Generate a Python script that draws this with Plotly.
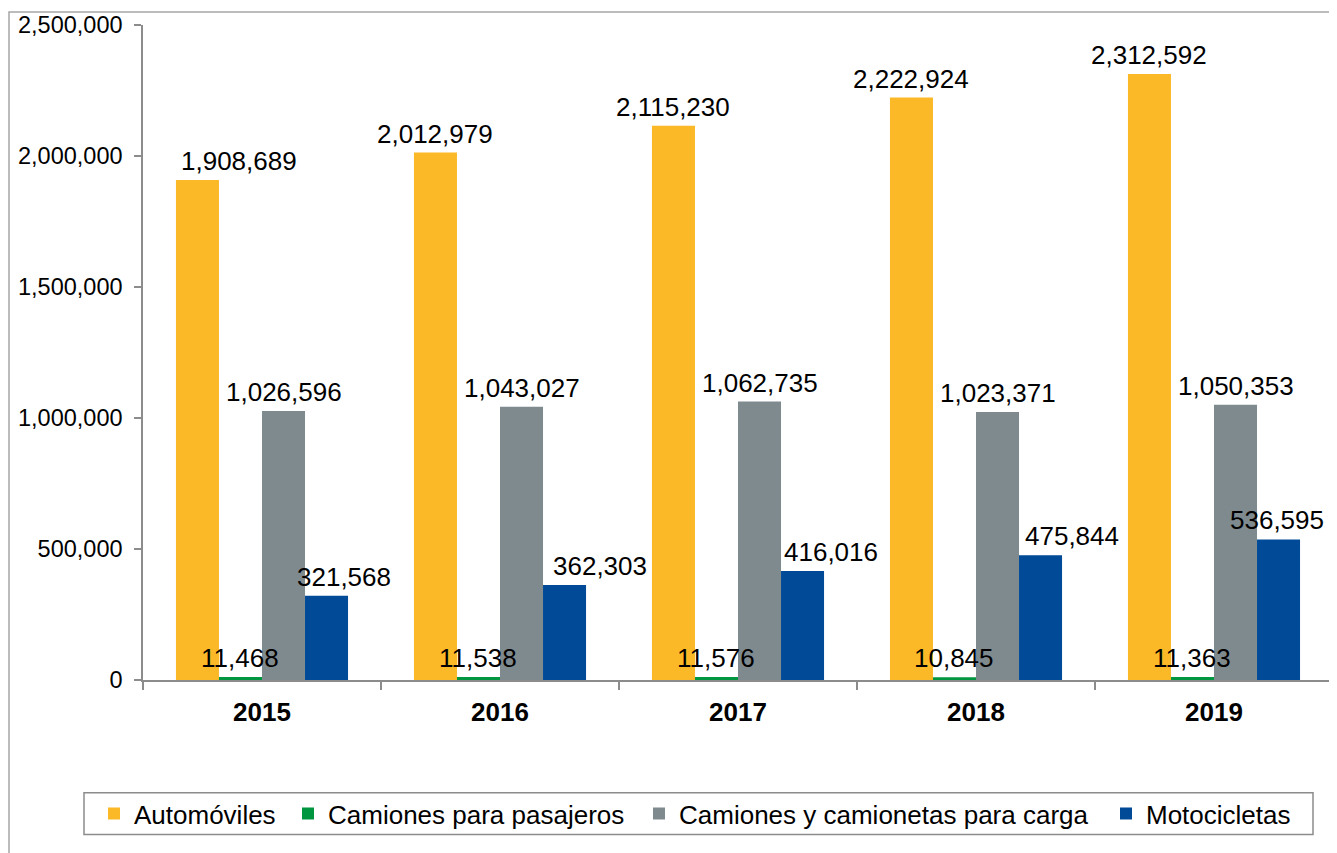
import plotly.graph_objects as go

years = ["2015", "2016", "2017", "2018", "2019"]
series_names = ["Automóviles", "Camiones para pasajeros",
                "Camiones y camionetas para carga", "Motocicletas"]
automoviles = [1908689, 2012979, 2115230, 2222924, 2312592]
camiones_pasajeros = [11468, 11538, 11576, 10845, 11363]
camiones_carga = [1026596, 1043027, 1062735, 1023371, 1050353]
motocicletas = [321568, 362303, 416016, 475844, 536595]
y_ticks = [0, 500000, 1000000, 1500000, 2000000, 2500000]

series_values = [automoviles, camiones_pasajeros, camiones_carga, motocicletas]
colors = ["#FBB927", "#00963F", "#7F8A8F", "#004A97"]
# horizontal nudges (px) of data labels, as placed in the original
label_shift = [
    [42, 0, 0, 0, 0],
    [0, 0, 0, 0, 0],
    [0, 0, 0, 0, 0],
    [17, 35, 28, 31, -2],
]
# screen x of where each legend entry's text starts
legend_text_x = [133, 327, 678, 1145]

FONT = "Liberation Sans, Arial, sans-serif"
BARGAP = 0.277
OFF = 8  # page body margin
W, H = 1337 - OFF, 853 - OFF
ML, MR, MT, MB = 143 - OFF, 4, 23 - OFF, 173
pw = W - ML - MR
ph = H - MT - MB


def paper_x(sx):
    return (sx - OFF - ML) / pw


def paper_y(sy):
    return (MT + ph - (sy - OFF)) / ph


legend_ids = ["legend", "legend2", "legend3", "legend4"]

fig = go.Figure()
for name, vals, col, lid in zip(series_names, series_values, colors, legend_ids):
    fig.add_trace(go.Bar(
        x=years, y=vals, name=name, legend=lid,
        marker=dict(color=col, line=dict(width=0)),
        hoverinfo="x+y+name",
    ))

annotations = []
nser = len(series_values)
bw = (1 - BARGAP) / nser
for s, vals in enumerate(series_values):
    off = -(1 - BARGAP) / 2 + bw * (s + 0.5)
    for i, v in enumerate(vals):
        annotations.append(dict(
            x=i + off, y=v, xref="x", yref="y",
            text=f"{v:,}", showarrow=False,
            yanchor="bottom", xanchor="center",
            xshift=label_shift[s][i], yshift=2,
            font=dict(family=FONT, size=26, color="#000000"),
        ))

shapes = [
    dict(type="rect", xref="paper", yref="paper", layer="below",
         x0=paper_x(9), x1=paper_x(1334), y0=paper_y(880), y1=paper_y(10),
         line=dict(color="#A6A6A6", width=1.5), fillcolor="rgba(0,0,0,0)"),
    dict(type="rect", xref="paper", yref="paper", layer="below",
         x0=paper_x(84), x1=paper_x(1313), y0=paper_y(835), y1=paper_y(793),
         line=dict(color="#8C8C8C", width=1.5), fillcolor="white"),
]

legend_layout = {}
for lid, tx in zip(legend_ids, legend_text_x):
    legend_layout[lid] = dict(
        orientation="h", x=paper_x(tx - 39), xanchor="left",
        y=paper_y(814), yanchor="middle",
        font=dict(family=FONT, size=26, color="#000000"),
        borderwidth=0, bgcolor="rgba(0,0,0,0)",
    )

fig.update_layout(
    width=W, height=H,
    margin=dict(l=ML, r=MR, t=MT, b=MB),
    paper_bgcolor="white", plot_bgcolor="white",
    barmode="group", bargap=BARGAP, bargroupgap=0,
    font=dict(family=FONT, color="#000000"),
    showlegend=True,
    annotations=annotations,
    shapes=shapes,
    xaxis=dict(
        type="category", range=[-0.5, 4.5],
        showline=True, linecolor="#8C8C8C", linewidth=1.5,
        ticks="outside", tickson="boundaries", ticklen=8,
        tickcolor="#8C8C8C", tickwidth=1.5,
        tickfont=dict(family=FONT, size=26, color="#000000", weight="bold"),
        ticklabelstandoff=8,
        showgrid=False, zeroline=False,
    ),
    yaxis=dict(
        range=[0, 2500000], tickvals=y_ticks, tickformat=",",
        showline=True, linecolor="#8C8C8C", linewidth=1.5,
        ticks="outside", ticklen=7, tickcolor="#8C8C8C", tickwidth=1.5,
        tickfont=dict(family=FONT, size=23.5, color="#000000"),
        ticklabelstandoff=7,
        showgrid=False, zeroline=False,
    ),
    **legend_layout,
)

fig.write_html("out.html")
